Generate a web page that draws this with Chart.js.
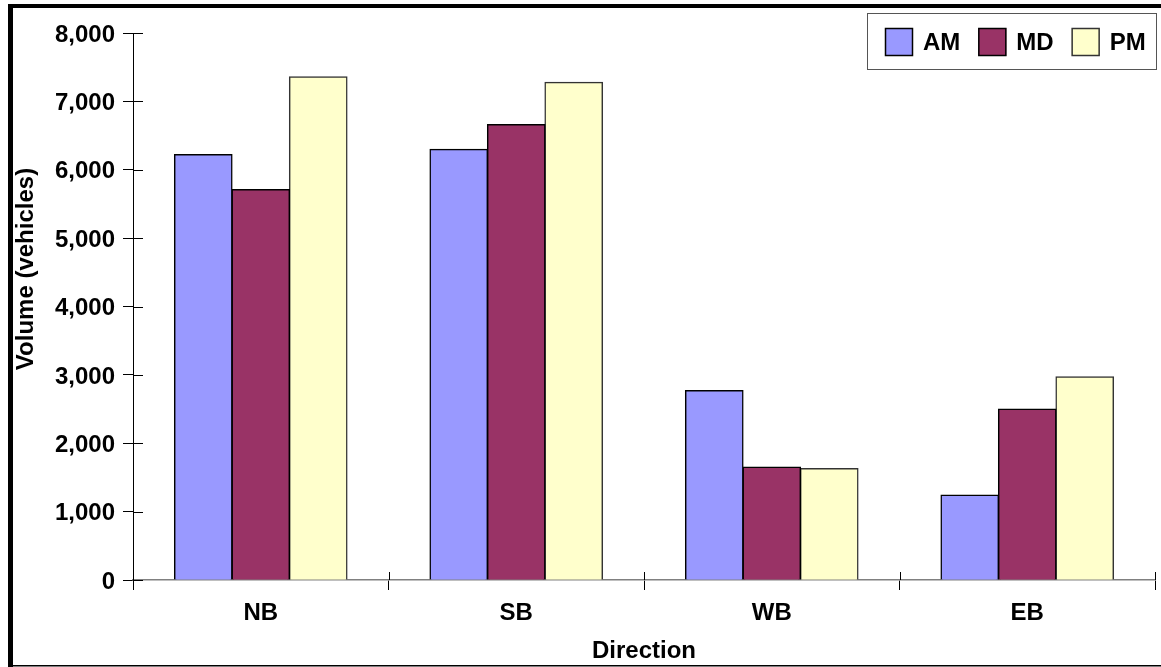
<!DOCTYPE html>
<html>
<head>
<meta charset="utf-8">
<script src="https://cdn.jsdelivr.net/npm/chart.js@4"></script>
<style>
  html, body { margin: 0; padding: 0; background: #fff; }
  #wrap { width: 1161px; height: 667px; position: relative; }
</style>
</head>
<body>
<div id="wrap"><canvas id="chart"></canvas></div>
<script>
// Traffic volume by direction and time period
const categories = ['NB', 'SB', 'WB', 'EB'];
const seriesNames = ['AM', 'MD', 'PM'];
const amValues = [6220, 6300, 2770, 1240];
const mdValues = [5710, 6660, 1650, 2500];
const pmValues = [7360, 7280, 1630, 2970];
const yTicks = [0, 1000, 2000, 3000, 4000, 5000, 6000, 7000, 8000];
const yTitle = 'Volume (vehicles)';
const xTitle = 'Direction';

const FONT = '"Liberation Sans", Arial, sans-serif';

// Frame around the whole drawing and white background
const framePlugin = {
  id: 'frame',
  beforeDraw(chart) {
    const ctx = chart.ctx;
    ctx.save();
    ctx.fillStyle = '#fff';
    ctx.fillRect(0, 0, chart.width, chart.height);
    ctx.fillStyle = '#000';
    ctx.fillRect(8, 4, chart.width - 8, 4);
    ctx.fillRect(8, 4, 5, chart.height - 4);
    ctx.fillRect(8, chart.height - 2, chart.width - 8, 1.5);
    ctx.restore();
  }
};

// Tick marks that cross the axes (inner half of each tick)
const crossTicks = {
  id: 'crossTicks',
  afterDraw(chart) {
    const ctx = chart.ctx;
    const y = chart.scales.y, x = chart.scales.x;
    ctx.save();
    ctx.strokeStyle = '#000';
    ctx.lineWidth = 1;
    y.ticks.forEach((t, i) => {
      const py = Math.round(y.getPixelForTick(i)) + 0.5;
      ctx.beginPath();
      ctx.moveTo(y.right, py);
      ctx.lineTo(y.right + 10, py);
      ctx.stroke();
    });
    const n = x.ticks.length;
    const step = (x.right - x.left) / n;
    for (let i = 0; i <= n; i++) {
      const px = Math.round(x.left + i * step) + 0.5;
      ctx.beginPath();
      ctx.moveTo(px, x.top);
      ctx.lineTo(px, x.top - 8);
      ctx.stroke();
    }
    ctx.restore();
  }
};

// Rotated y-axis title
const yTitlePlugin = {
  id: 'yTitle',
  afterDraw(chart) {
    const ctx = chart.ctx;
    ctx.save();
    ctx.translate(26, 269);
    ctx.rotate(-Math.PI / 2);
    ctx.font = 'bold 24px ' + FONT;
    ctx.fillStyle = '#000';
    ctx.textAlign = 'center';
    ctx.textBaseline = 'middle';
    ctx.fillText(yTitle, 0, 0);
    ctx.restore();
  }
};

// Boxed legend in the top-right corner
const boxLegend = {
  id: 'boxLegend',
  afterDraw(chart) {
    const ctx = chart.ctx;
    ctx.save();
    ctx.fillStyle = '#fff';
    ctx.fillRect(867, 13, 290, 56);
    ctx.strokeStyle = '#555';
    ctx.lineWidth = 1;
    ctx.strokeRect(867.5, 13.5, 289, 56);
    ctx.font = 'bold 24px ' + FONT;
    ctx.textBaseline = 'middle';
    ctx.textAlign = 'left';
    let cx = 885;
    chart.data.datasets.forEach(ds => {
      ctx.fillStyle = ds.backgroundColor;
      ctx.fillRect(cx, 28, 28, 28);
      ctx.strokeStyle = ds.borderColor;
      ctx.lineWidth = 1.5;
      ctx.strokeRect(cx + 0.5, 28.5, 27, 27);
      ctx.fillStyle = '#000';
      const tx = cx + 38;
      ctx.fillText(ds.label, tx, 43);
      cx = tx + ctx.measureText(ds.label).width + 18;
    });
    ctx.restore();
  }
};

const ctx = document.getElementById('chart');
new Chart(ctx, {
  type: 'bar',
  data: {
    labels: categories,
    datasets: [
      { label: seriesNames[0], data: amValues, backgroundColor: '#9999FF', borderColor: '#000', borderWidth: 1.5, inflateAmount: 0.6 },
      { label: seriesNames[1], data: mdValues, backgroundColor: '#993366', borderColor: '#000', borderWidth: 1.5, inflateAmount: 0.6 },
      { label: seriesNames[2], data: pmValues, backgroundColor: '#FFFFCC', borderColor: '#333', borderWidth: 1.5, inflateAmount: 0.6 }
    ]
  },
  options: {
    responsive: true,
    maintainAspectRatio: false,
    animation: false,
    events: [],
    categoryPercentage: 0.675,
    barPercentage: 1.0,
    layout: { padding: { top: 33, right: 6, left: 0, bottom: 0 } },
    plugins: {
      legend: { display: false },
      tooltip: { enabled: false },
      title: { display: false }
    },
    scales: {
      x: {
        grid: {
          offset: true,
          drawOnChartArea: false,
          drawTicks: true,
          tickLength: 10,
          color: '#000'
        },
        border: { display: true, color: '#808080', width: 1.5 },
        ticks: {
          color: '#000',
          padding: 9,
          font: { family: FONT, size: 24, weight: 'bold' }
        },
        title: {
          display: true,
          text: xTitle,
          color: '#000',
          padding: { top: 0, bottom: 1 },
          font: { family: FONT, size: 24, weight: 'bold' }
        },
        afterFit(scale) { scale.height = 87; }
      },
      y: {
        min: 0,
        max: 8000,
        afterBuildTicks(scale) { scale.ticks = yTicks.map(v => ({ value: v })); },
        grid: {
          drawOnChartArea: false,
          drawTicks: true,
          tickLength: 10,
          color: '#000'
        },
        border: { display: true, color: '#000', width: 1 },
        ticks: {
          color: '#000',
          padding: 8,
          labelOffset: 2,
          font: { family: FONT, size: 24, weight: 'bold' },
          callback: v => v.toLocaleString('en-US')
        },
        afterFit(scale) { scale.width = 133; }
      }
    }
  },
  plugins: [framePlugin, crossTicks, yTitlePlugin, boxLegend]
});
</script>
</body>
</html>
